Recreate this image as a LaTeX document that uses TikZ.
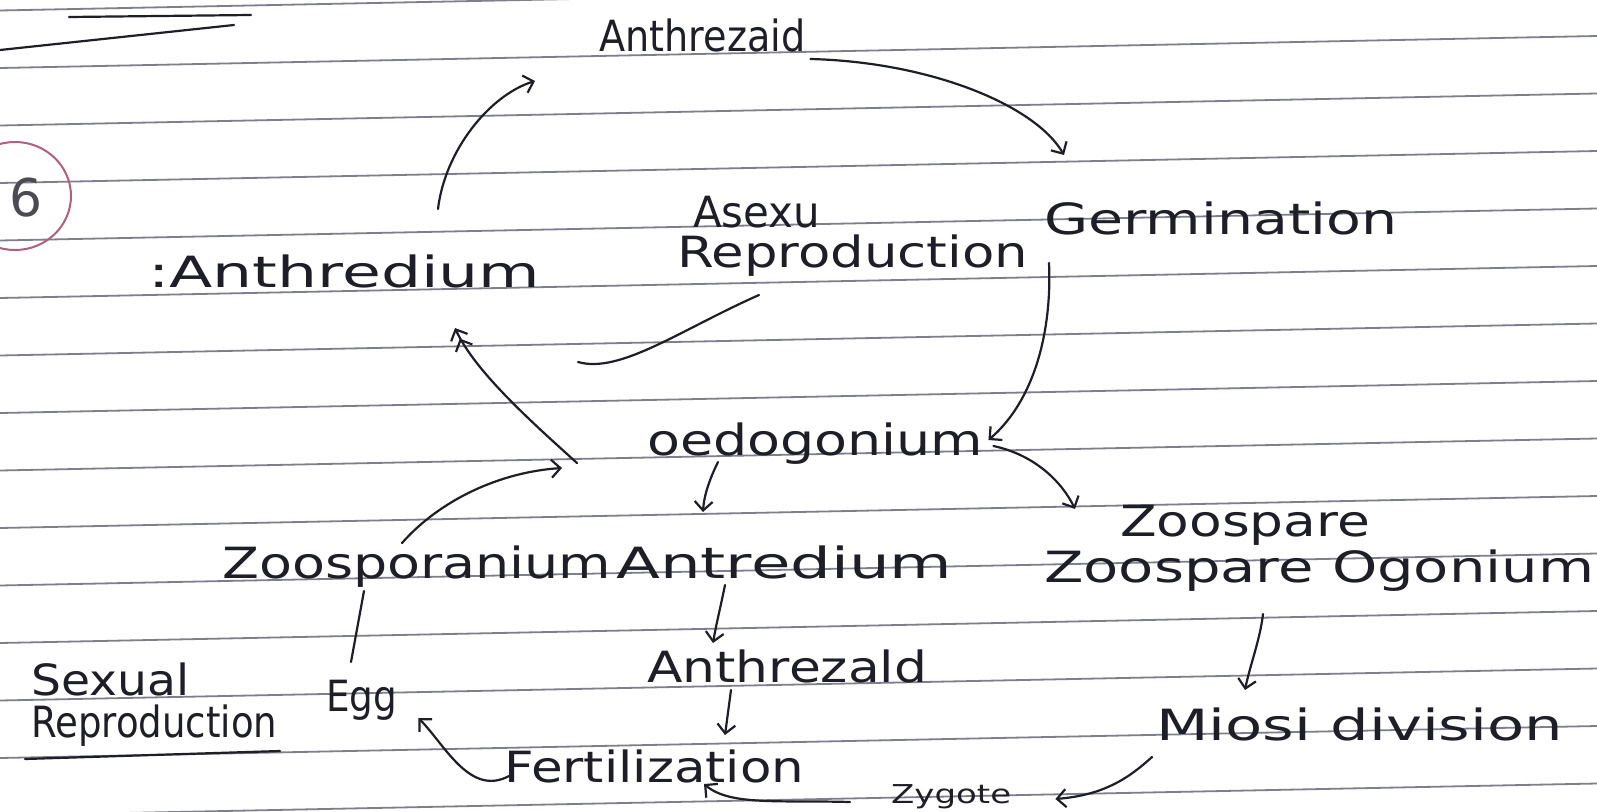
\documentclass[tikz,border=0pt]{standalone}
\usepackage{fontspec}
\setmainfont{DejaVu Sans}
\usepackage{graphicx}
\usetikzlibrary{arrows.meta}
\newcommand\hw[2]{\resizebox{#1pt}{\height}{#2}}
\definecolor{ink}{HTML}{1E1E26}
\definecolor{ruleink}{HTML}{7E7E8C}
\definecolor{redink}{HTML}{B0607E}
\begin{document}
\begin{tikzpicture}[x=1pt,y=-1pt,
  lbl/.style={anchor=base west, inner sep=0pt, text=ink, font=\fontsize{43}{47}\selectfont},
  ln/.style={draw=ink, line width=2.2pt, line cap=round},
  arr/.style={ln, -{Straight Barb[length=9pt,width=18pt]}},
  darr/.style={ln, -{Straight Barb[length=9pt,width=18pt]Straight Barb[length=9pt,width=18pt]}},
  paperline/.style={draw=ruleink, line width=1.8pt}]
\useasboundingbox (0,0) rectangle (1597,811);
\fill[white] (0,0) rectangle (1597,811);
% ruled paper
\foreach \k in {0,...,14} {
  \draw[paperline] (0,{10.5+57.5*\k}) -- (1597,{10.5+57.5*\k-32});
}
% header underlines (heading text cut off)
\draw[ln] (0,50) -- (234,25);
\draw[ln] (69,17) -- (251,15);
% circled number
\draw[redink, line width=2pt] (15,196) ellipse [x radius=56, y radius=54];
\node[inner sep=0pt, text=ink!80, font=\fontsize{52}{52}\selectfont] (num) at (26,198) {6};

% labels
\node[lbl] (anz1) at (599,51) {\hw{206}{Anthrezaid}};
\node[lbl] (germ) at (1044,234) {\hw{353}{Germination}};
\node[lbl] (asx) at (693,227) {\hw{127}{Asexu}};
\node[lbl] (arep) at (677,267) {\hw{351}{Reproduction}};
\node[lbl] (anth1) at (148,287) {\hw{392}{:Anthredium}};
\node[lbl] (oed) at (647,455) {\hw{336}{oedogonium}};
\node[lbl] (zsp) at (1120,536) {\hw{250}{Zoospare}};
\node[lbl] (zspr) at (222,578) {\hw{389}{Zoosporanium}};
\node[lbl] (antr) at (616,578) {\hw{336}{Antredium}};
\node[lbl] (zog) at (1044,582) {\hw{550}{Zoospare Ogonium}};
\node[lbl] (anz2) at (647,682) {\hw{280}{Anthrezald}};
\node[lbl] (sex) at (31,695) {\hw{158}{Sexual}};
\node[lbl] (srep) at (31,737) {\hw{246}{Reproduction}};
\node[lbl] (egg) at (326,711) {\hw{71}{Egg}};
\node[lbl] (fert) at (504,782) {\hw{300}{Fertilization}};
\node[lbl] (mio) at (1156,740) {\hw{407}{Miosi division}};
\node[lbl, font=\fontsize{26}{28}\selectfont] (zyg) at (891,803) {\hw{120}{Zygote}};
\draw[ln] (25,759) -- (280,751);

% free ends
\coordinate (a4end) at (578,362);
\coordinate (jn) at (562,468);
\coordinate (jt) at (577,463);

% connectors
\draw[arr] ([shift={(290,-78)}]anth1.base west) .. controls (445,150) and (490,95) .. ([shift={(-64,30)}]anz1.base west);
\draw[arr] ([shift={(5,8)}]anz1.base east) .. controls (930,62) and (1035,105) .. ([shift={(20,-79)}]germ.base west);
\draw[arr] ([shift={(5,29)}]germ.base west) .. controls (1052,330) and (1035,400) .. ([shift={(5,-15)}]oed.base east);
\draw[ln] ([shift={(82,28)}]arep.base west) .. controls (680,330) and (620,374) .. (a4end);
\draw[darr] (jt) .. controls (535,425) and (475,372) .. ([shift={(307,41)}]anth1.base west);
\draw[arr] ([shift={(180,-35)}]zspr.base west) .. controls (440,500) and (500,472) .. (jn);
\draw[arr] ([shift={(71,7)}]oed.base west) .. controls (710,478) and (704,495) .. ([shift={(87,-66)}]antr.base west);
\draw[arr] ([shift={(10,-9)}]oed.base east) .. controls (1035,455) and (1062,482) .. ([shift={(-45,-27)}]zsp.base west);
\draw[arr] ([shift={(109,7)}]antr.base west) .. controls (721,605) and (716,625) .. ([shift={(66,-39)}]anz2.base west);
\draw[arr] ([shift={(84,8)}]anz2.base west) -- ([shift={(221,-47)}]fert.base west);
\draw[ln] ([shift={(142,13)}]zspr.base west) -- ([shift={(25,-49)}]egg.base west);
\draw[arr] ([shift={(5,-6)}]fert.base west) .. controls (470,797) and (445,745) .. ([shift={(21,7)}]egg.base east);
\draw[arr] ([shift={(-41,-1)}]zyg.base west) .. controls (780,800) and (730,806) .. ([shift={(200,2)}]fert.base west);
\draw[arr] ([shift={(219,32)}]zog.base west) .. controls (1260,640) and (1250,665) .. ([shift={(89,-50)}]mio.base west);
\draw[arr] ([shift={(-4,17)}]mio.base west) .. controls (1130,777) and (1105,795) .. ([shift={(44,-4)}]zyg.base east);
\end{tikzpicture}
\end{document}
